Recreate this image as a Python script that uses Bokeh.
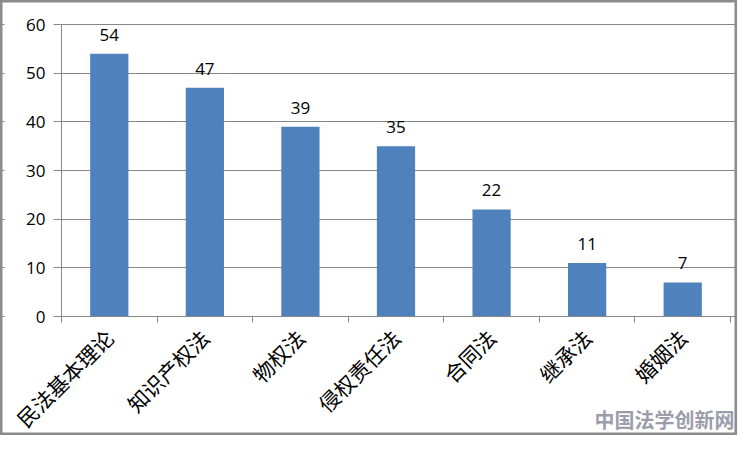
import math
from bokeh.plotting import figure
from bokeh.models import FixedTicker, Range1d, ColumnDataSource, Label, BoxAnnotation
from bokeh.core.properties import value
from bokeh.embed import file_html
from bokeh.resources import INLINE

categories = ["民法基本理论", "知识产权法", "物权法", "侵权责任法", "合同法", "继承法", "婚姻法"]
counts = [54, 47, 39, 35, 22, 11, 7]
y_ticks = [0, 10, 20, 30, 40, 50, 60]
watermark = "中国法学创新网"

n = len(categories)
xs = [i + 0.5 for i in range(n)]
src = ColumnDataSource(dict(x=xs, top=counts, lbl=[str(v) for v in counts]))

# layout (pixels): plot area spans x 61..730, y 24..316 within a 737x435 canvas
W, H = 737, 435
L, R, T, B = 61, 730, 24, 316
ppx = (R - L) / n          # pixels per category
ppy = (B - T) / 60         # pixels per unit

p = figure(frame_width=W, frame_height=H, output_backend="svg", toolbar_location=None,
           x_range=Range1d(-L / ppx, n + (W - R) / ppx),
           y_range=Range1d(-(H - B) / ppy, 60 + T / ppy),
           min_border=0)
p.outline_line_color = "#8c8c8c"
p.outline_line_width = 4
p.background_fill_color = "white"
p.border_fill_color = "white"

# keep grid lines from running left of the y axis (leave the outer border visible)
p.add_layout(BoxAnnotation(left=-(L - 4) / ppx, right=0,
                           bottom=y_ticks[0] - 4 / ppy, top=y_ticks[-1] + 4 / ppy,
                           fill_color="white", fill_alpha=1.0,
                           line_color=None, level="underlay"))

p.vbar(x="x", top="top", bottom=0, width=0.4, source=src, fill_color="#4F81BD", line_color=None)
p.text(x="x", y="top", text="lbl", source=src, y_offset=-13, text_align="center",
       text_baseline="bottom", text_font=value("Open Sans"), text_font_size="17px",
       text_color="#000000")

# x axis (drawn at y = 0)
p.xaxis.fixed_location = 0
p.xaxis.bounds = (0, n)
p.xaxis.ticker = FixedTicker(ticks=xs, minor_ticks=list(range(n + 1)))
p.xaxis.major_label_overrides = {x: c for x, c in zip(xs, categories)}
p.xaxis.major_label_orientation = math.pi / 4
p.xaxis.major_tick_in = 0
p.xaxis.major_tick_out = 0
p.xaxis.minor_tick_in = 0
p.xaxis.minor_tick_out = 6
p.xaxis.minor_tick_line_color = "#868686"
p.xaxis.axis_line_color = "#868686"
p.xaxis.major_label_text_font = "Noto Sans CJK SC"
p.xaxis.major_label_text_font_size = "21px"
p.xaxis.major_label_text_color = "#000000"
p.xaxis.major_label_standoff = 11
p.xgrid.grid_line_color = None

# y axis (drawn at x = 0)
p.yaxis.fixed_location = 0
p.yaxis.bounds = (0, 60)
p.yaxis.ticker = FixedTicker(ticks=y_ticks, minor_ticks=[])
p.yaxis.major_tick_in = 0
p.yaxis.major_tick_out = 8
p.yaxis.major_tick_line_color = "#868686"
p.yaxis.axis_line_color = "#868686"
p.yaxis.major_label_text_font = "Open Sans"
p.yaxis.major_label_text_font_size = "17px"
p.yaxis.major_label_text_color = "#000000"
p.yaxis.major_label_standoff = 8
p.ygrid.ticker = FixedTicker(ticks=y_ticks)
p.ygrid.grid_line_color = "#868686"

wm = Label(x=W - 3, y=2, x_units="screen", y_units="screen", text=watermark,
           text_align="right", text_baseline="bottom", text_font="Noto Sans CJK SC",
           text_font_size="20px", text_font_style="bold", text_color="#9c9daa", level="overlay")
p.add_layout(wm)

open("out.html", "w").write(file_html(p, INLINE))
